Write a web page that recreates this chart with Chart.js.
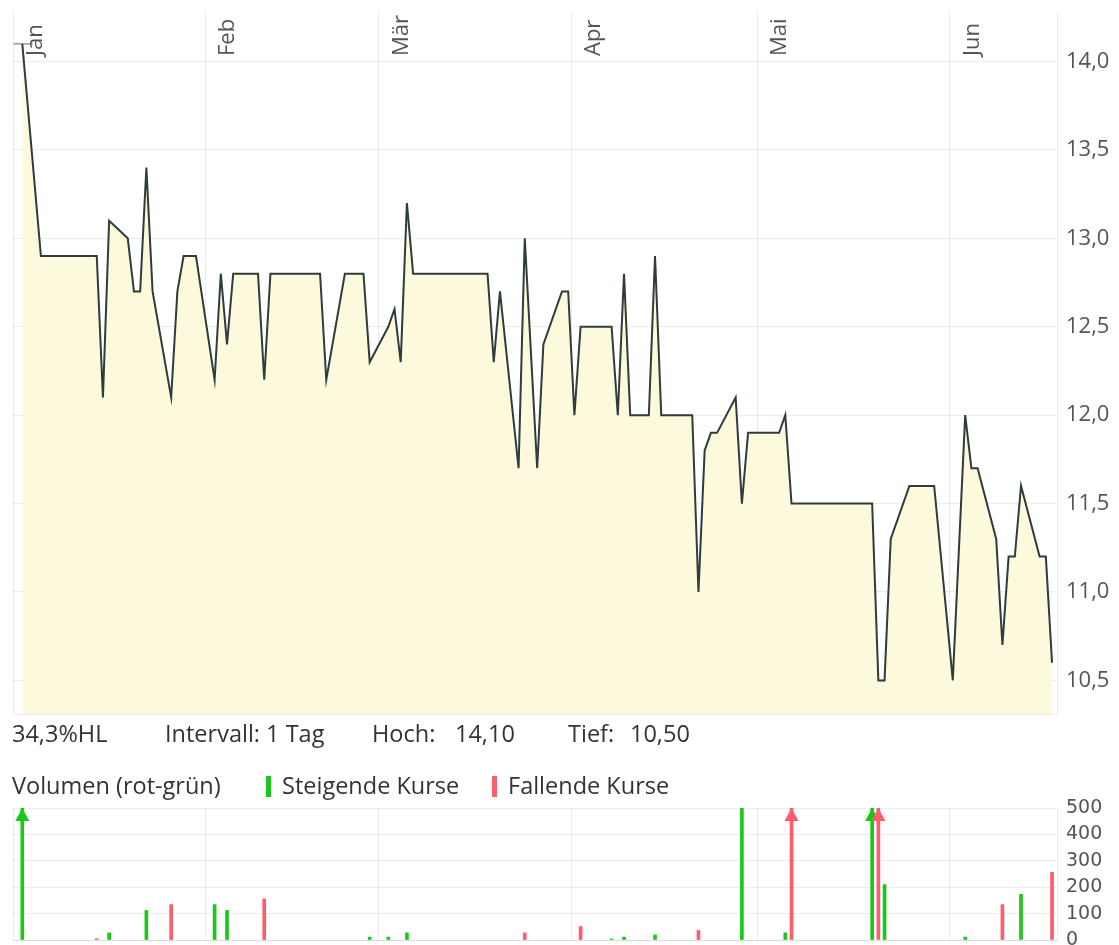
<!DOCTYPE html>
<html lang="de">
<head>
  <meta charset="UTF-8">
  <title>Kursverlauf</title>
  <script src="https://cdn.jsdelivr.net/npm/chart.js"></script>
  <style>
    body { margin: 0; width: 1119px; height: 945px; position: relative; overflow: hidden; background: #fff;
           font-family: "Open Sans", sans-serif; color: #333; }
    .txt { position: absolute; font-size: 23.5px; line-height: 23px; white-space: nowrap; }
    .mark { position: absolute; width: 5px; height: 21px; }
    #priceChart { position: absolute; left: 0; top: 0; }
    #volChart { position: absolute; left: 0; top: 795px; }
  </style>
</head>
<body>
  <canvas id="priceChart" width="1119" height="726"></canvas>
  <canvas id="volChart" width="1119" height="160"></canvas>

  <!-- Infozeile -->
  <span class="txt" style="left:12px; top:722px">34,3%HL</span>
  <span class="txt" style="left:165px; top:722px">Intervall: 1 Tag</span>
  <span class="txt" style="left:372px; top:722px">Hoch:</span>
  <span class="txt" style="left:455px; top:722px">14,10</span>
  <span class="txt" style="left:568px; top:722px">Tief:</span>
  <span class="txt" style="left:630px; top:722px">10,50</span>

  <!-- Legende Volumen -->
  <span class="txt" style="left:12px; top:774px">Volumen (rot-grün)</span>
  <span class="mark" style="left:266px; top:776px; background:#19c819"></span>
  <span class="txt" style="left:282px; top:774px">Steigende Kurse</span>
  <span class="mark" style="left:492px; top:776px; background:#ff5c6c"></span>
  <span class="txt" style="left:508px; top:774px">Fallende Kurse</span>

  <script>
    // Tage seit 1. Januar (Handelstage), Kurs jeweils um 12 Uhr gezeichnet
    const priceDays = [1, 4, 13, 14, 15, 18, 19, 20, 21, 22, 25, 26, 27, 29, 32, 33, 34, 35, 39, 40, 41,
      49, 50, 53, 56, 57, 60, 61, 62, 63, 64, 76, 77, 78, 81, 82, 84, 85, 88, 89, 90, 91, 96, 97, 98, 99,
      102, 103, 104, 109, 110, 111, 112, 113, 116, 117, 118, 123, 124, 125, 138, 139, 140, 141, 144, 148,
      151, 153, 154, 155, 158, 159, 160, 161, 162, 165, 166, 167];
    const priceValues = [14.1, 12.9, 12.9, 12.1, 13.1, 13.0, 12.7, 12.7, 13.4, 12.7, 12.1, 12.7, 12.9, 12.9,
      12.2, 12.8, 12.4, 12.8, 12.8, 12.2, 12.8, 12.8, 12.2, 12.8, 12.8, 12.3, 12.5, 12.6, 12.3, 13.2, 12.8,
      12.8, 12.3, 12.7, 11.7, 13.0, 11.7, 12.4, 12.7, 12.7, 12.0, 12.5, 12.5, 12.0, 12.8, 12.0, 12.0, 12.9,
      12.0, 12.0, 11.0, 11.8, 11.9, 11.9, 12.1, 11.5, 11.9, 11.9, 12.0, 11.5, 11.5, 10.5, 10.5, 11.3, 11.6,
      11.6, 10.5, 12.0, 11.7, 11.7, 11.3, 10.7, 11.2, 11.2, 11.6, 11.2, 11.2, 10.6];

    // Hoch / Tief Markierung
    const markerDays = [1, 139];
    const markerValues = [14.1, 10.5];

    // Volumen (Werte über 500 werden mit Pfeil gezeichnet)
    const upDays = [1, 15, 21, 32, 34, 57, 60, 63, 96, 98, 103, 117, 124, 138, 140, 153, 162];
    const upVolumes = [800, 27, 112, 134, 112, 11, 11, 27, 4, 11, 19, 500, 27, 800, 210, 11, 173];
    const downDays = [13, 25, 40, 82, 91, 110, 125, 139, 159, 167];
    const downVolumes = [5, 134, 156, 27, 51, 36, 800, 800, 134, 256];

    const monthStarts = [0, 31, 59, 90, 120, 151];
    const monthLabels = ['Jan', 'Feb', 'Mär', 'Apr', 'Mai', 'Jun'];
    const priceTicks = [10.5, 11.0, 11.5, 12.0, 12.5, 13.0, 13.5, 14.0];
    const volumeTicks = [0, 100, 200, 300, 400, 500];

    const gridColor = 'rgba(0,0,0,0.075)';
    const upColor = '#19c819';
    const downColor = '#ff5c6c';

    const toPoints = (days, vals) => days.map((d, i) => ({ x: d + 0.5, y: vals[i] }));

    function xAxis() {
      return {
        type: 'linear', min: 0, max: 168.3, offset: false,
        afterBuildTicks: s => { s.ticks = monthStarts.map(v => ({ value: v })); },
        afterFit: s => { s.height = 0; s.paddingLeft = 0; s.paddingRight = 0; },
        ticks: { display: false },
        grid: { color: gridColor, drawTicks: false, offset: false },
        border: { color: gridColor }
      };
    }

    function yAxis(min, max, ticks, font, fmt) {
      return {
        position: 'right', min: min, max: max,
        afterBuildTicks: s => { s.ticks = ticks.map(v => ({ value: v })); },
        afterFit: s => { s.width = 62; s.paddingTop = 0; s.paddingBottom = 0; },
        ticks: { font: font, color: '#555', padding: 9, callback: fmt },
        grid: { color: gridColor, drawTicks: false },
        border: { color: gridColor }
      };
    }

    // Monatsnamen oben im Diagramm, senkrecht
    const monthLabelPlugin = {
      id: 'monthLabels',
      afterDatasetsDraw(chart) {
        const { ctx, scales: { x } } = chart;
        ctx.save();
        ctx.font = '22px "Open Sans"';
        ctx.fillStyle = '#555';
        ctx.textAlign = 'left';
        ctx.textBaseline = 'alphabetic';
        monthStarts.forEach((v, i) => {
          ctx.save();
          ctx.translate(x.getPixelForValue(v) + 29, 56);
          ctx.rotate(-Math.PI / 2);
          ctx.fillText(monthLabels[i], 0, 0);
          ctx.restore();
        });
        ctx.restore();
      }
    };

    // Pfeilspitzen für Balken, die über das Maximum gehen
    const arrowPlugin = {
      id: 'arrows',
      afterDatasetsDraw(chart) {
        const { ctx, chartArea, scales: { y } } = chart;
        ctx.save();
        chart.data.datasets.forEach((ds, di) => {
          chart.getDatasetMeta(di).data.forEach((bar, i) => {
            if (ds.data[i].y <= y.max) return;
            ctx.fillStyle = ds.backgroundColor;
            ctx.beginPath();
            ctx.moveTo(bar.x, chartArea.top);
            ctx.lineTo(bar.x - 7, chartArea.top + 13);
            ctx.lineTo(bar.x + 7, chartArea.top + 13);
            ctx.closePath();
            ctx.fill();
          });
        });
        ctx.restore();
      }
    };

    new Chart(document.getElementById('priceChart'), {
      type: 'line',
      data: {
        datasets: [
          {
            data: toPoints(priceDays, priceValues),
            borderColor: '#2f3c3c', borderWidth: 2,
            backgroundColor: '#fdf9dc', fill: 'start',
            pointRadius: 0, tension: 0
          },
          {
            data: toPoints(markerDays, markerValues),
            showLine: false, pointStyle: 'line', pointRadius: 10.5,
            borderColor: '#9c9c9c', borderWidth: 1.5
          }
        ]
      },
      options: {
        responsive: false, animation: false, events: [],
        layout: { padding: { left: 13, top: 10, right: 0, bottom: 2 } },
        plugins: { legend: { display: false }, tooltip: { enabled: false } },
        scales: {
          x: xAxis(),
          y: yAxis(10.31, 14.28, priceTicks, { family: 'Open Sans', size: 22 },
                   v => v.toFixed(1).replace('.', ','))
        }
      },
      plugins: [monthLabelPlugin]
    });

    new Chart(document.getElementById('volChart'), {
      type: 'bar',
      data: {
        datasets: [
          { data: toPoints(upDays, upVolumes), backgroundColor: upColor, barThickness: 3 },
          { data: toPoints(downDays, downVolumes), backgroundColor: downColor, barThickness: 3 }
        ]
      },
      options: {
        responsive: false, animation: false, events: [],
        datasets: { bar: { grouped: false } },
        layout: { padding: { left: 13, top: 13, right: 0, bottom: 15 } },
        plugins: { legend: { display: false }, tooltip: { enabled: false } },
        scales: {
          x: xAxis(),
          y: yAxis(0, 500, volumeTicks, { family: 'DejaVu Sans', size: 19 }, v => v)
        }
      },
      plugins: [arrowPlugin]
    });
  </script>
</body>
</html>
